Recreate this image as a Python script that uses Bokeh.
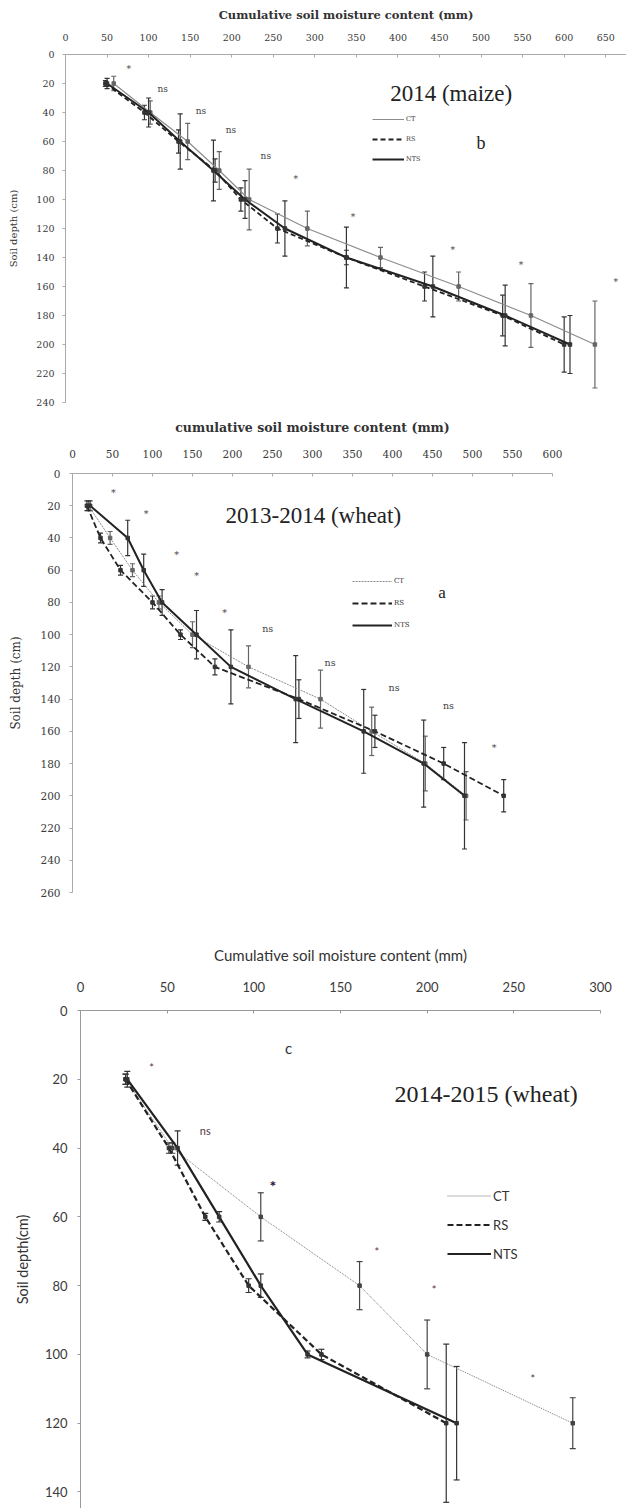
from bokeh.plotting import figure
from bokeh.models import (Range1d, Whisker, ColumnDataSource, FixedTicker, TeeHead,
                          Legend, LegendItem)
from bokeh.embed import file_html
from bokeh.resources import INLINE
from bokeh.core.properties import value

# ---------------- Panel b : 2014 (maize) ----------------
depth_b = [20, 40, 60, 80, 100, 120, 140, 160, 180, 200]
ct_b = [58, 102, 147, 185, 221, 291, 379, 473, 560, 637]
rs_b = [48, 95, 136, 180, 211, 255, 338, 432, 526, 600]
nts_b = [50, 100, 138, 178, 216, 264, 338, 442, 529, 607]
ct_b_err = [5, 8, 12.5, 13, 21, 12, 7, 10, 22, 30]
rs_b_err = [2, 5, 8, 8, 8, 10, 5, 10, 14, 19]
nts_b_err = [3.5, 10, 19, 21, 13, 19, 21, 21, 21, 20]
sig_b_text = ["*", "ns", "ns", "ns", "ns", "*", "*", "*", "*", "*"]
sig_b_x = [76, 117, 163, 199, 241, 277, 346, 466, 548, 662]
sig_b_y = [10, 24, 39, 52, 70, 86, 112, 135, 145, 157]

# ---------------- Panel a : 2013-2014 (wheat) ----------------
depth_a = [20, 40, 60, 80, 100, 120, 140, 160, 180, 200]
ct_a = [20, 47, 75, 108, 150, 220, 310, 374, 441, 492]
rs_a = [18, 35, 60, 100, 135, 178, 283, 378, 464, 539]
nts_a = [22, 69, 89, 112, 155, 198, 279, 364, 439, 490]
ct_a_err = [3, 4, 4, 4, 8, 13, 18, 15, 17, 15]
rs_a_err = [3, 3, 3, 4, 3, 5, 12, 10, 10, 10]
nts_a_err = [3, 11, 10, 8, 15, 23, 27, 26, 27, 33]
sig_a_text = ["*", "*", "*", "*", "*", "ns", "ns", "ns", "ns", "*"]
sig_a_x = [51, 92, 130, 155, 190, 244, 322, 402, 470, 527]
sig_a_y = [12, 25, 50, 63, 86, 96, 117, 133, 144, 170]

# ---------------- Panel c : 2014-2015 (wheat) ----------------
depth_c = [20, 40, 60, 80, 100, 120]
ct_c = [26, 53, 104, 161, 200, 284]
rs_c = [26, 51, 72, 97, 139, 211]
nts_c = [27, 56, 80, 104, 131, 217]
ct_c_err = [1.5, 1.5, 7, 7, 10, 7.4]
rs_c_err = [1.5, 1.5, 1, 2, 1.5, 23]
nts_c_err = [2.3, 5, 1.5, 3.4, 1, 16.5]
sig_c_text = ["*", "ns", "*", "*", "*"]
sig_c_x = [41, 72, 171, 204, 261]
sig_c_y = [16.6, 35, 70, 81, 107]
sig_c_bold_text = ["*"]
sig_c_bold_x = [111]
sig_c_bold_y = [51]

series_names = ["CT", "RS", "NTS"]

SERIF = "DejaVu Serif"
TITLE_SERIF = "Liberation Serif"
SANS = "Lato"


def style_axes(p, font, tick_size, label_size, xticks, yticks, x_label, y_label,
               x_lab_standoff, x_axl_standoff, y_lab_standoff, y_axl_standoff,
               x_label_style, y_label_style, y_label_size, axis_color):
    p.grid.visible = False
    p.outline_line_color = None
    p.xaxis.ticker = FixedTicker(ticks=xticks)
    p.yaxis.ticker = FixedTicker(ticks=yticks)
    for ax in (p.xaxis[0], p.yaxis[0]):
        ax.axis_line_color = axis_color
        ax.major_tick_line_color = axis_color
        ax.minor_tick_line_color = None
        ax.major_label_text_font = font
        ax.major_label_text_font_size = tick_size
        ax.major_label_text_color = "#3a3a3a"
        ax.axis_label_text_font = font
        ax.axis_label_text_color = "#333333"
    p.xaxis.axis_label_text_font_size = label_size
    p.yaxis.axis_label_text_font_size = y_label_size
    p.xaxis.axis_label_text_font_style = x_label_style
    p.yaxis.axis_label_text_font_style = y_label_style
    p.xaxis.major_tick_in = 3
    p.xaxis.major_tick_out = 0
    p.yaxis.major_tick_in = 0
    p.yaxis.major_tick_out = 3
    p.xaxis.axis_label = x_label
    p.yaxis.axis_label = y_label
    p.xaxis.major_label_standoff = x_lab_standoff
    p.xaxis.axis_label_standoff = x_axl_standoff
    p.yaxis.major_label_standoff = y_lab_standoff
    p.yaxis.axis_label_standoff = y_axl_standoff


def add_series(p, depth, vals, err, color, width, dash, err_color, head):
    src = ColumnDataSource(dict(x=vals, y=depth,
                                upper=[d + e for d, e in zip(depth, err)],
                                lower=[d - e for d, e in zip(depth, err)]))
    r = p.line("x", "y", source=src, line_color=color, line_width=width, line_dash=dash)
    p.scatter("x", "y", source=src, marker="square", size=3.5, color=err_color)
    w = Whisker(source=src, base="x", upper="upper", lower="lower", dimension="height",
                line_color=err_color, line_width=1.2,
                upper_head=TeeHead(size=head, line_color=err_color, line_width=1.2),
                lower_head=TeeHead(size=head, line_color=err_color, line_width=1.2))
    p.add_layout(w)
    return r


def add_legend(p, renderers, loc, font, size, glyph_w, item_h):
    items = [LegendItem(label=n, renderers=[r]) for n, r in zip(series_names, renderers)]
    lg = Legend(items=items, location=loc, border_line_color=None,
                background_fill_alpha=0, padding=0, margin=0, spacing=0,
                glyph_width=glyph_w, glyph_height=item_h, label_height=item_h,
                label_standoff=2, label_text_font=font, label_text_font_size=size,
                label_text_color="#333333")
    p.add_layout(lg)


# ---------- Panel b ----------
p1 = figure(width=626, height=415, x_range=Range1d(0, 675), y_range=Range1d(240, 0),
            x_axis_location="above", output_backend="svg", toolbar_location=None,
            min_border_left=65, min_border_right=0, min_border_top=54, min_border_bottom=13)
style_axes(p1, SERIF, "9.5px", "11.5px", list(range(0, 651, 50)), list(range(0, 241, 20)),
           "Cumulative soil moisture content (mm)", "Soil depth (cm)",
           14, 9, 8, 14, "bold", "normal", "10px", "#aaaaaa")
r_ct = add_series(p1, depth_b, ct_b, ct_b_err, "#8c8c8c", 1.2, "solid", "#666666", 5)
r_rs = add_series(p1, depth_b, rs_b, rs_b_err, "#222222", 1.8, "5 3", "#333333", 5)
r_nts = add_series(p1, depth_b, nts_b, nts_b_err, "#222222", 2.0, "solid", "#333333", 5)
p1.text(x=sig_b_x, y=sig_b_y, text=sig_b_text, text_font=value(SERIF), text_font_size="9px",
        text_color="#444444", text_align="center", text_baseline="middle")
p1.text(x=[464], y=[27], text=["2014 (maize)"], text_font=value(TITLE_SERIF),
        text_font_size="23px", text_color="#222222", text_align="center", text_baseline="middle")
p1.text(x=[500], y=[61], text=["b"], text_font=value(TITLE_SERIF), text_font_size="18px",
        text_color="#222222", text_align="center", text_baseline="middle")
add_legend(p1, [r_ct, r_rs, r_nts], (307, 233), SERIF, "6.5px", 32, 20)

# ---------- Panel a ----------
p2 = figure(width=626, height=490, x_range=Range1d(0, 600), y_range=Range1d(260, 0),
            x_axis_location="above", output_backend="svg", toolbar_location=None,
            min_border_left=72, min_border_right=74, min_border_top=58, min_border_bottom=13)
style_axes(p2, SERIF, "10.5px", "12.5px", list(range(0, 601, 50)), list(range(0, 261, 20)),
           "cumulative soil moisture content (mm)", "Soil depth (cm)",
           16, 12, 9, 14, "bold", "normal", "12px", "#aaaaaa")
r_ct = add_series(p2, depth_a, ct_a, ct_a_err, "#8c8c8c", 1.0, "2 1", "#666666", 5)
r_rs = add_series(p2, depth_a, rs_a, rs_a_err, "#222222", 1.8, "6 3", "#333333", 5)
r_nts = add_series(p2, depth_a, nts_a, nts_a_err, "#222222", 2.0, "solid", "#333333", 5)
p2.text(x=sig_a_x, y=sig_a_y, text=sig_a_text, text_font=value(SERIF), text_font_size="9.5px",
        text_color="#444444", text_align="center", text_baseline="middle")
p2.text(x=[301], y=[26], text=["2013-2014 (wheat)"], text_font=value(TITLE_SERIF),
        text_font_size="23px", text_color="#222222", text_align="center", text_baseline="middle")
p2.text(x=[462], y=[74], text=["a"], text_font=value(TITLE_SERIF), text_font_size="17px",
        text_color="#222222", text_align="center", text_baseline="middle")
add_legend(p2, [r_ct, r_rs, r_nts], (280, 256), SERIF, "7px", 40, 22)

# ---------- Panel c ----------
p3 = figure(width=626, height=603, x_range=Range1d(0, 300), y_range=Range1d(144.8, 0),
            x_axis_location="above", output_backend="svg", toolbar_location=None,
            min_border_left=80, min_border_right=26, min_border_top=105, min_border_bottom=0)
style_axes(p3, SANS, "13px", "15px", list(range(0, 301, 50)), list(range(0, 141, 20)),
           "Cumulative soil moisture content (mm)", "Soil depth(cm)",
           19, 15, 10, 11, "normal", "normal", "14.5px", "#999999")
r_ct = add_series(p3, depth_c, ct_c, ct_c_err, "#777777", 1.0, "1 1", "#444444", 6)
r_rs = add_series(p3, depth_c, rs_c, rs_c_err, "#222222", 2.2, "6 3", "#333333", 6)
r_nts = add_series(p3, depth_c, nts_c, nts_c_err, "#222222", 2.2, "solid", "#333333", 6)
p3.text(x=sig_c_x, y=sig_c_y, text=sig_c_text, text_font=value(SANS), text_font_size="11px",
        text_color="#553344", text_align="center", text_baseline="middle")
p3.text(x=sig_c_bold_x, y=sig_c_bold_y, text=sig_c_bold_text, text_font=value(SANS),
        text_font_size="16px", text_font_style="bold", text_color="#221133",
        text_align="center", text_baseline="middle")
p3.text(x=[234], y=[24.4], text=["2014-2015 (wheat)"], text_font=value(TITLE_SERIF),
        text_font_size="24px", text_color="#222222", text_align="center", text_baseline="middle")
p3.text(x=[120], y=[10.8], text=["c"], text_font=value(SANS), text_font_size="15px",
        text_color="#333333", text_align="center", text_baseline="middle")
add_legend(p3, [r_ct, r_rs, r_nts], (367, 240), SANS, "13px", 44, 29)

open("out.html", "w").write(file_html([p1, p2, p3], INLINE))
